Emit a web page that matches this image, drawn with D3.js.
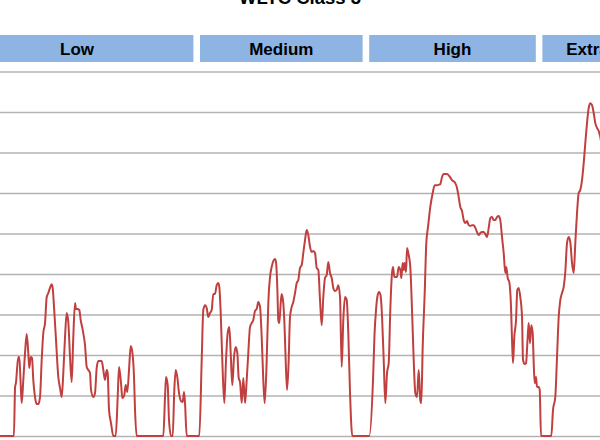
<!DOCTYPE html>
<html>
<head>
<meta charset="utf-8">
<script src="https://cdn.jsdelivr.net/npm/d3@7"></script>
<style>
  html, body { margin: 0; padding: 0; background: #fff; overflow: hidden; }
  svg { display: block; }
</style>
</head>
<body>
<div id="chart"></div>
<script>
// ---- data ----
const title = "WLTC Class 3";
const phaseNames = ["Low", "Medium", "High", "Extra-high"];
const phaseBounds = [0, 598, 1021, 1454, 1800];          // seconds
const speedTicks = [0, 16, 32, 48, 64, 80, 96, 112, 128, 144];

const timeS = [0,141,144,146,152,154.5,157.5,160.5,164.5,168.8,173,177,179.5,183,186.3,189.5,193.8,198,202,206.3,
  210.5,214.5,218.8,223,227,231.3,235.5,238,241.3,246.3,252,256.3,260.5,264.5,268.8,273,277,281.3,285.5,289.5,
  293.8,296.3,299.5,304.5,308,313,318.8,323,327,331.3,333.8,339.5,343.8,348,352,360.5,364.5,368.8,373,375.5,
  378.8,383.8,389.5,395.5,400.5,403.8,408.8,412,417,420.5,424.5,428.8,433,437,441.3,443.8,448,514.5,518.8,521.3,
  525.5,528.8,533.8,538,542,545.5,549.5,553.8,558.8,563,566.3,568.8,573,604.5,610.5,614.5,618.8,623,627,631.3,
  635.5,639.5,643.8,648,652,654.5,658,662,667,671.3,675.5,679.5,683,687,691.3,695.5,699.5,703,706.3,710.5,
  714.5,718.8,723,727,731.3,735.5,739.5,743.8,748,752,756.3,760.5,764.5,768,773,777,781.3,785.5,789.5,793.8,
  796.3,799.5,802,804.5,808,810.5,814.5,817.5,820,823.8,827.5,831.3,835.5,839.5,843.8,848,852,856.3,860.5,864.5,
  868.8,873,877,881.3,885.5,889.5,893.8,898,902,906.3,910.5,914.5,918.8,923,927,931.3,935.5,939.5,943.8,948,
  952,956.3,960.5,964.5,968.8,973,977,981.3,987,1029.5,1038.8,1042.5,1046.3,1050,1053.8,1057.5,1061.3,1065.5,1069.5,1073.8,
  1078,1082,1086.3,1088.8,1092,1098.8,1103,1107,1109.5,1113,1115.5,1118,1121.3,1123.8,1128,1132,1136.3,1140.5,1144.5,1148.8,
  1153,1157,1159.5,1163,1168,1172,1176.3,1182,1188,1193,1198.8,1207,1211.3,1215.5,1223.8,1229.5,1236.3,1244.5,1248.8,1253,
  1257,1261.3,1265.5,1269.5,1273.8,1278,1282,1286.3,1290.5,1294.5,1298.8,1303,1307,1311.3,1315.5,1319.5,1323.8,1328,1332,1336.3,
  1340.5,1344.5,1348.8,1353,1357,1361.3,1365.5,1369.5,1372,1375.5,1379.5,1383.8,1386.3,1388.8,1392,1396.3,1399.5,1403,1407,1411.3,
  1413.8,1418,1421.3,1425.5,1428,1431.3,1434.5,1438,1440.5,1443,1446.3,1448.8,1453,1455.5,1458.8,1484.5,1488.8,1494.5,1498.8,1503,
  1507,1511.3,1515.5,1519.5,1523.8,1528,1532,1536.3,1540.5,1544.5,1548.8,1553,1557,1561.3,1565.5,1569.5,1573.8,1578,1582,1586.3,
  1590.5,1594.5,1598.8,1603,1607,1611.3,1640,1700,1760,1790,1800];

const speedKmh = [0,0,19.4,20.9,31.2,31.2,22.1,13.0,22.1,32.8,40.3,32.8,26.9,31.2,30.8,22.1,15.4,12.6,12.6,15.4,
  30.0,40.7,44.6,54.9,56.5,58.5,60.0,58.5,51.0,37.9,23.3,19.0,15.4,24.9,39.1,48.6,45.0,31.2,21.3,39.1,
  52.5,50.2,50.2,49.8,45.8,41.9,35.9,27.3,26.1,24.9,18.2,15.4,17.0,26.9,29.6,29.6,26.1,22.1,26.1,24.9,
  10.3,5.1,0,0,15.4,27.3,20.9,15.0,16.2,20.1,17.4,26.1,35.6,33.2,23.3,10.3,0,0,15.4,23.3,
  20.1,6.3,0,0,18.2,26.1,23.3,17.0,13.8,13.4,17.4,13.0,0,0,30.0,49.8,51.7,50.6,47.0,48.6,
  49.8,56.1,56.1,59.6,60.4,58.9,48.6,30.0,13.0,30.0,40.7,43.1,32.8,20.1,31.2,35.2,32.8,22.9,21.3,13.0,
  22.9,13.0,22.1,32.8,43.1,44.6,45.8,49.4,50.2,52.9,51.0,39.1,22.1,13.0,30.0,52.5,62.8,66.8,69.1,69.9,
  68.7,58.9,45.8,44.6,52.5,56.1,52.5,43.8,32.0,18.2,28.0,47.0,51.0,52.9,56.5,60.4,61.6,66.4,67.5,72.3,
  77.4,81.4,79.4,74.7,72.7,73.1,72.3,66.4,65.6,53.7,43.8,54.9,62.4,63.6,68.7,64.4,62.4,58.5,57.3,57.7,
  59.6,54.9,27.3,45.8,54.9,53.7,40.7,17.0,0,0,22.1,39.9,49.8,55.3,56.9,55.7,47.4,30.0,13.0,24.9,
  28.8,49.8,64.4,66.8,62.8,62.8,66.8,65.6,62.4,68.3,65.6,68.3,64.8,74.3,71.5,66.8,49.8,30.0,17.0,15.4,
  26.1,14.2,13.0,35.2,56.5,76.2,82.6,90.5,96.0,99.1,99.1,99.5,102.3,103.5,103.5,102.7,101.1,99.9,98.0,94.4,
  90.5,88.9,85.3,84.1,84.9,83.3,83.0,83.3,83.3,82.2,80.6,79.4,80.2,80.6,80.6,79.8,78.6,82.2,86.1,86.5,
  85.3,85.3,86.5,86.9,85.3,78.6,72.3,64.4,66.8,62.4,60.8,51.0,37.9,28.8,39.1,45.8,57.7,58.5,54.9,47.0,
  30.0,28.4,28.8,39.1,44.6,36.7,43.8,40.7,28.8,20.9,23.3,19.4,19.4,18.2,0,0,10.3,15.4,31.2,47.0,
  53.7,56.5,58.9,64.8,76.2,78.6,76.6,68.3,64.4,76.2,88.1,96.0,97.2,101.1,107.8,115.7,123.6,129.6,131.5,130.7,
  127.6,123.6,121.7,120.5,118.1,114.2,110,105,60,0,0];

// ---- layout ----
const W = 600, H = 440;
const svg = d3.select("#chart").append("svg").attr("width", W).attr("height", H);

const x = d3.scaleLinear().domain([0, 1800]).range([-42.5, 677.5]);
const y = d3.scaleLinear().domain([0, 144]).range([436, 71.5]);

// gridlines
svg.append("g")
  .attr("class", "grid")
  .attr("transform", "translate(0,0)")
  .call(d3.axisLeft(y).tickValues(speedTicks).tickSize(-(x.range()[1] - x.range()[0])).tickFormat(""))
  .attr("transform", `translate(${x.range()[0]},0)`)
  .call(g => g.select(".domain").remove())
  .call(g => g.selectAll(".tick line").attr("stroke", "#b3b3b3").attr("stroke-width", 1.3));

// phase strips
const phases = phaseNames.map((n, i) => ({ name: n, t0: phaseBounds[i], t1: phaseBounds[i + 1] }));
const strips = svg.append("g").selectAll("g").data(phases).join("g");
strips.append("rect")
  .attr("x", d => x(d.t0) + 3.3)
  .attr("width", d => x(d.t1) - x(d.t0) - 6.6)
  .attr("y", 35).attr("height", 27)
  .attr("fill", "#8db4e2");
strips.append("text")
  .attr("x", d => (x(d.t0) + x(d.t1)) / 2)
  .attr("y", 54.5)
  .attr("text-anchor", "middle")
  .attr("font-family", "'Liberation Sans', Arial, sans-serif")
  .attr("font-weight", "bold")
  .attr("font-size", 17)
  .attr("fill", "#000")
  .text(d => d.name);

// speed line
const pts = timeS.map((t, i) => [t, speedKmh[i]]);
svg.append("path")
  .datum(pts)
  .attr("fill", "none")
  .attr("stroke", "#c0403f")
  .attr("stroke-width", 2)
  .attr("stroke-linejoin", "round")
  .attr("d", d3.line().x(d => x(d[0])).y(d => y(d[1])).curve(d3.curveMonotoneX));

// title
svg.append("text")
  .attr("x", 300).attr("y", 4)
  .attr("text-anchor", "middle")
  .attr("font-family", "'Liberation Sans', Arial, sans-serif")
  .attr("font-weight", "bold")
  .attr("font-size", 18.5)
  .attr("fill", "#000")
  .text(title);
</script>
</body>
</html>
